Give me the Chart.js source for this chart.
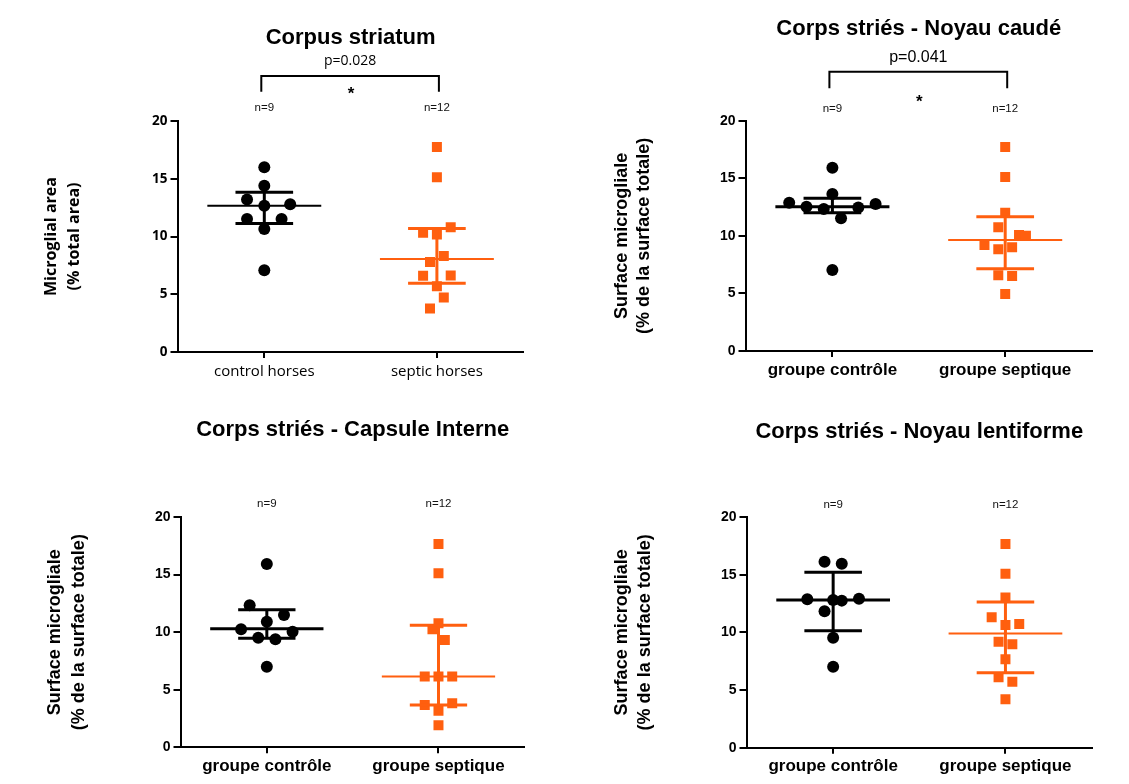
<!DOCTYPE html>
<html>
<head>
<meta charset="utf-8">
<script src="https://cdn.jsdelivr.net/npm/chart.js@4.4.1/dist/chart.umd.min.js"></script>
<style>
body{margin:0;background:#fff;width:1129px;height:784px;overflow:hidden;position:relative}
canvas{position:absolute}
</style>
</head>
<body>
<canvas id="c1" width="564" height="392" style="left:0;top:0"></canvas>
<canvas id="c2" width="565" height="392" style="left:564px;top:0"></canvas>
<canvas id="c3" width="564" height="392" style="left:0;top:392px"></canvas>
<canvas id="c4" width="565" height="392" style="left:564px;top:392px"></canvas>
<script>
// texts
const titles=['Corpus striatum','Corps striés - Noyau caudé','Corps striés - Capsule Interne','Corps striés - Noyau lentiforme'];
const groupsEn=['control horses','septic horses'];
const groupsFr=['groupe contrôle','groupe septique'];
const yTitleEn=['Microglial area','(% total area)'];
const yTitleFr=['Surface microgliale','(% de la surface totale)'];
const nLabels=['n=9','n=12'];
const pLabels=['p=0.028','p=0.041',null,null];

// values (% area); spread = horizontal scatter within a group, in category units
const ctrlStriatum=[15.99,14.4,13.2,12.8,12.67,11.52,11.52,10.65,7.08];
const ctrlStriatumSpread=[0,0,-0.1,0.15,0,-0.1,0.1,0,0];
const septStriatum=[17.75,15.14,10.8,10.33,10.18,8.32,7.8,6.6,6.62,5.7,4.72,3.77];
const septStriatumSpread=[0,0,0.08,-0.08,0,0.04,-0.04,-0.08,0.08,0,0.04,-0.04];
const medStriatum=[12.67,8.05], q1Striatum=[11.12,5.95], q3Striatum=[13.83,10.7];

const ctrlCaude=[15.92,13.63,12.88,12.76,12.53,12.47,12.33,11.52,7.03];
const ctrlCaudeSpread=[0,0,-0.25,0.25,-0.15,0.15,-0.05,0.05,0];
const septCaude=[17.71,15.11,12.01,10.74,10.07,10.01,9.2,9.0,8.83,6.57,6.51,4.95];
const septCaudeSpread=[0,0,0,-0.04,0.08,0.12,-0.12,0.04,-0.04,-0.04,0.04,0];
const medCaude=[12.53,9.64], q1Caude=[12.01,7.15], q3Caude=[13.26,11.66];

const ctrlCapsule=[15.92,12.33,11.49,10.91,10.25,10.04,9.52,9.38,7.0];
const ctrlCapsuleSpread=[0,-0.1,0.1,0,-0.15,0.15,-0.05,0.05,0];
const septCapsule=[17.66,15.11,10.77,10.25,9.32,6.14,6.14,6.14,3.68,3.82,3.18,1.91];
const septCapsuleSpread=[0,0,0,-0.035,0.037,-0.08,0,0.08,-0.08,0.08,0,0];
const medCapsule=[10.3,6.14], q1Capsule=[9.46,3.68], q3Capsule=[11.95,10.59];

const ctrlLenti=[16.13,15.95,12.86,12.8,12.75,12.92,11.82,9.54,7.02];
const ctrlLentiSpread=[-0.05,0.05,-0.15,0,0.05,0.15,-0.05,0,0];
const septLenti=[17.66,15.09,13.03,11.3,10.72,10.64,9.19,8.96,7.66,6.1,5.72,4.19];
const septLentiSpread=[0,0,0,-0.08,0.08,0,-0.04,0.04,0,-0.04,0.04,0];
const medLenti=[12.8,9.91], q1Lenti=[10.14,6.5], q3Lenti=[15.2,12.63];

const ORANGE='#ff5f0f';
const SANS='"Liberation Sans", Arial, sans-serif';
const OPEN='"Open Sans", sans-serif';

const annotate={
  id:'annotate',
  afterDraw(chart,args,o){
    const {ctx,chartArea:a,scales:{x}}=chart;
    ctx.save();
    ctx.fillStyle='#111';
    ctx.textAlign='center';
    ctx.textBaseline='middle';
    ctx.font='11.5px '+SANS;
    nLabels.forEach((t,i)=>ctx.fillText(t,x.getPixelForValue(i),a.top-o.nOff));
    if(o.p){
      const x0=x.getPixelForValue(0)-3, x1=x.getPixelForValue(1)+2;
      ctx.strokeStyle='#000';
      ctx.lineWidth=2;
      ctx.beginPath();
      ctx.moveTo(x0,a.top-o.brB);
      ctx.lineTo(x0,a.top-o.brT);
      ctx.lineTo(x1,a.top-o.brT);
      ctx.lineTo(x1,a.top-o.brB);
      ctx.stroke();
      ctx.fillStyle='#000';
      ctx.font=o.pFont;
      ctx.fillText(o.p,(x0+x1)/2,a.top-o.pOff);
      ctx.font='bold 17px '+SANS;
      ctx.fillText('*',(x0+x1)/2+1,a.top-o.starOff);
    }
    ctx.restore();
  }
};

function panel(f){
  const pts=(vals,spread,g)=>vals.map((v,i)=>({x:g+spread[i],y:v}));
  const medLine=g=>[{x:g-0.33,y:f.med[g]},{x:g+0.33,y:f.med[g]}];
  const iqr=g=>[
    {x:g-0.167,y:f.q3[g]},{x:g+0.167,y:f.q3[g]},{x:g,y:null},
    {x:g,y:f.q3[g]},{x:g,y:f.q1[g]},{x:g,y:null},
    {x:g-0.167,y:f.q1[g]},{x:g+0.167,y:f.q1[g]}];
  const line=(data,color,w)=>({data,showLine:true,borderColor:color,borderWidth:w,pointRadius:0,spanGaps:false,order:0});
  const tickFont=f.en?{family:OPEN,size:13.5,weight:'bold'}:{family:SANS,size:14,weight:'bold'};
  const labFont=f.en?{family:OPEN,size:15}:{family:SANS,size:17,weight:'bold'};
  new Chart(document.getElementById(f.id),{
    type:'scatter',
    data:{datasets:[
      line(medLine(0),'#000',f.en?2:3),
      line(iqr(0),'#000',3),
      line(medLine(1),ORANGE,2),
      line(iqr(1),ORANGE,3),
      {data:pts(f.ctrl,f.ctrlS,0),pointStyle:'circle',pointRadius:6,backgroundColor:'#000',borderWidth:0,order:1},
      {data:pts(f.sept,f.septS,1),pointStyle:'rect',pointRadius:7.07,backgroundColor:ORANGE,borderWidth:0,order:1}
    ]},
    options:{
      responsive:false,
      animation:false,
      layout:{padding:{left:0,top:0,bottom:0,right:f.padR}},
      plugins:{
        legend:{display:false},
        tooltip:{enabled:false},
        title:{display:true,text:f.title,fullSize:false,color:'#000',
          font:{family:SANS,size:f.tSize,weight:'bold'},padding:{top:f.tPadT,bottom:f.tPadB}},
        annotate:f.ann
      },
      scales:{
        x:{
          type:'linear',min:-0.5,max:1.5,
          afterBuildTicks:s=>{s.ticks=[{value:0},{value:1}];},
          afterFit:s=>{s.height=f.xH;},
          ticks:{callback:(v,i)=>f.groups[i],color:'#000',font:labFont,padding:f.xPad,maxRotation:0,autoSkip:false},
          grid:{drawOnChartArea:false,drawTicks:true,tickLength:6,color:'#000',lineWidth:2},
          border:{color:'#000',width:2}
        },
        y:{
          min:0,max:20,
          afterFit:s=>{s.width=f.yW;},
          ticks:{stepSize:5,color:'#000',font:tickFont,padding:3},
          grid:{drawOnChartArea:false,drawTicks:true,tickLength:7.5,color:'#000',lineWidth:2},
          border:{color:'#000',width:2},
          title:{display:true,text:f.yTitle,color:'#000',
            font:{family:f.en?OPEN:SANS,size:f.ytSize,weight:'bold',lineHeight:f.ytLH+'px'},
            padding:{top:f.ytPad,bottom:0}}
        }
      }
    },
    plugins:[annotate]
  });
}

panel({id:'c1',en:true,title:titles[0],groups:groupsEn,yTitle:yTitleEn,
  ctrl:ctrlStriatum,ctrlS:ctrlStriatumSpread,sept:septStriatum,septS:septStriatumSpread,
  med:medStriatum,q1:q1Striatum,q3:q3Striatum,
  yW:178,xH:40,padR:40.8,tSize:22,tPadT:24.8,tPadB:69.8,ytSize:16,ytLH:23,ytPad:40.3,xPad:4.7,
  ann:{nOff:13,p:pLabels[0],pFont:'14px '+OPEN,pOff:60,brT:45,brB:29.3,starOff:27}});
panel({id:'c2',en:false,title:titles[1],groups:groupsFr,yTitle:yTitleFr,
  ctrl:ctrlCaude,ctrlS:ctrlCaudeSpread,sept:septCaude,septS:septCaudeSpread,
  med:medCaude,q1:q1Caude,q3:q3Caude,
  yW:182,xH:41,padR:37.4,tSize:22,tPadT:16.1,tPadB:78.2,ytSize:18,ytLH:22.5,ytPad:46.5,xPad:2.8,
  ann:{nOff:12,p:pLabels[1],pFont:'16px '+SANS,pOff:63.4,brT:49,brB:32.4,starOff:18}});
panel({id:'c3',en:false,title:titles[2],groups:groupsFr,yTitle:yTitleFr,
  ctrl:ctrlCapsule,ctrlS:ctrlCapsuleSpread,sept:septCapsule,septS:septCapsuleSpread,
  med:medCapsule,q1:q1Capsule,q3:q3Capsule,
  yW:181,xH:36.7,padR:39.7,tSize:22,tPadT:24.8,tPadB:73.8,ytSize:18,ytLH:23.2,ytPad:43.8,xPad:3.2,
  ann:{nOff:13,p:pLabels[2]}});
panel({id:'c4',en:false,title:titles[3],groups:groupsFr,yTitle:yTitleFr,
  ctrl:ctrlLenti,ctrlS:ctrlLentiSpread,sept:septLenti,septS:septLentiSpread,
  med:medLenti,q1:q1Lenti,q3:q3Lenti,
  yW:183,xH:36.3,padR:37.4,tSize:22,tPadT:26.5,tPadB:72.1,ytSize:18,ytLH:23.5,ytPad:46,xPad:2.8,
  ann:{nOff:12,p:pLabels[3]}});
</script>
</body>
</html>
